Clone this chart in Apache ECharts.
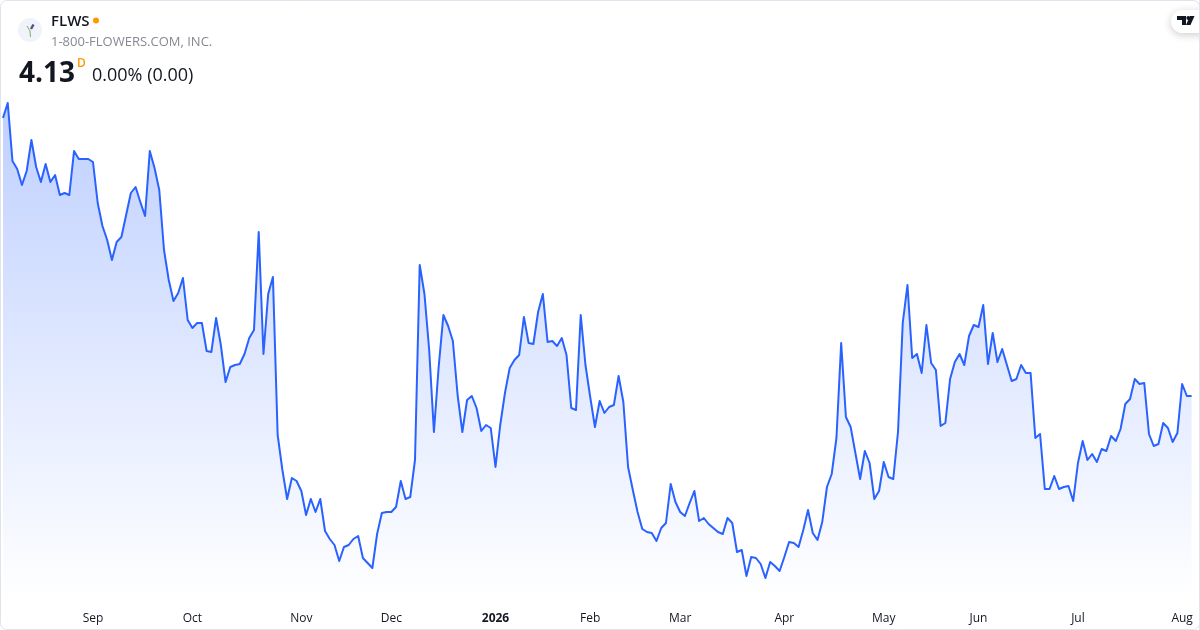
<!DOCTYPE html>
<html>
<head>
<meta charset="utf-8">
<style>
html,body{margin:0;padding:0;background:#fff;width:1200px;height:630px;overflow:hidden}
#chart{width:1200px;height:630px}
</style>
<script src="https://cdn.jsdelivr.net/npm/echarts@6/dist/echarts.min.js"></script>
</head>
<body>
<div id="chart"></div>
<script>
const tickIndex = [19,40,63,82,104,124,143,165,186,206,227,249];
const tickLabels = ['Sep','Oct','Nov','Dec','2026','Feb','Mar','Apr','May','Jun','Jul','Aug'];
const closes = [
6.91,7.06,6.48,6.40,6.24,6.38,6.69,6.42,6.27,6.45,6.27,6.34,6.14,6.16,6.14,6.58,6.50,6.50,6.50,6.47,
6.06,5.83,5.69,5.49,5.67,5.72,5.94,6.16,6.22,6.07,5.93,6.58,6.41,6.19,5.59,5.29,5.08,5.16,5.31,4.89,
4.81,4.86,4.86,4.58,4.57,4.91,4.64,4.27,4.42,4.44,4.45,4.55,4.71,4.79,5.77,4.55,5.15,5.32,3.74,3.39,
3.10,3.31,3.28,3.18,2.94,3.10,2.97,3.10,2.78,2.70,2.64,2.48,2.62,2.64,2.70,2.73,2.51,2.46,2.41,2.75,
2.96,2.97,2.97,3.02,3.28,3.10,3.12,3.49,5.44,5.15,4.59,3.77,4.42,4.94,4.83,4.68,4.14,3.77,4.09,4.13,
4.01,3.78,3.84,3.81,3.42,3.84,4.16,4.41,4.49,4.54,4.92,4.66,4.65,4.97,5.15,4.67,4.68,4.63,4.71,4.54,
4.01,3.99,4.94,4.44,4.12,3.82,4.08,3.96,4.02,4.04,4.33,4.07,3.42,3.19,2.97,2.80,2.77,2.76,2.68,2.81,
2.86,3.25,3.07,2.97,2.93,3.06,3.18,2.88,2.91,2.85,2.81,2.77,2.75,2.91,2.86,2.57,2.59,2.33,2.52,2.51,
2.45,2.31,2.47,2.43,2.38,2.52,2.67,2.66,2.62,2.79,2.99,2.76,2.69,2.87,3.22,3.35,3.71,4.66,3.92,3.82,
3.56,3.30,3.58,3.46,3.10,3.18,3.47,3.32,3.30,3.77,4.86,5.24,4.51,4.55,4.36,4.84,4.46,4.39,3.83,3.86,
4.30,4.47,4.55,4.44,4.73,4.84,4.82,5.04,4.45,4.76,4.47,4.60,4.44,4.28,4.30,4.44,4.36,4.36,3.71,3.75,
3.20,3.20,3.33,3.20,3.22,3.23,3.08,3.46,3.68,3.49,3.55,3.47,3.60,3.58,3.73,3.68,3.80,4.05,4.10,4.30,
4.25,4.26,3.75,3.63,3.65,3.86,3.81,3.67,3.76,4.25,4.13,4.13
];
const categories = closes.map((_, i) => {
  const k = tickIndex.indexOf(i);
  return k >= 0 ? tickLabels[k] : '';
});
const FONT = '"Open Sans","Noto Sans",sans-serif';
const chart = echarts.init(document.getElementById('chart'), null, {renderer:'canvas'});
chart.setOption({
  animation:false,
  backgroundColor:'#ffffff',
  grid:{left:2.3,right:8.4,top:0,bottom:30,containLabel:false},
  xAxis:{
    type:'category',data:categories,boundaryGap:false,
    axisLine:{show:false},axisTick:{show:false},splitLine:{show:false},
    axisLabel:{
      interval:0,margin:13,color:'#131722',fontSize:12,fontFamily:FONT,hideOverlap:false,
      formatter:v=>v==='2026'?'{b|2026}':v,
      rich:{b:{fontWeight:'bold',fontSize:12,fontFamily:FONT,color:'#131722'}}
    }
  },
  yAxis:{type:'value',min:2.09,max:8.09,show:false,splitLine:{show:false}},
  series:[{
    type:'line',data:closes,symbol:'none',smooth:false,silent:true,
    lineStyle:{color:'#2962ff',width:2,join:'round'},
    areaStyle:{origin:'start',opacity:1,color:{type:'linear',global:true,x:0,y:100,x2:0,y2:600,
      colorStops:[{offset:0,color:'rgba(41,98,255,0.30)'},{offset:1,color:'rgba(41,98,255,0)'}]}}
  }],
  graphic:[
    {type:'rect',silent:true,z:50,shape:{x:0.5,y:0.5,width:1199,height:629,r:6},style:{fill:'none',stroke:'#e0e3eb',lineWidth:1}},
    {type:'circle',silent:true,z:60,shape:{cx:30,cy:30,r:12},style:{fill:'#f0f3fa'}},
    {type:'polyline',silent:true,z:61,shape:{points:[[27,26],[30,31],[30.5,37]]},style:{fill:'none',stroke:'#7ab55c',lineWidth:1}},
    {type:'line',silent:true,z:61,shape:{x1:31,y1:29,x2:33.5,y2:24.5},style:{stroke:'#5b4a8a',lineWidth:2.4}},
    {type:'text',silent:true,z:60,x:51,y:14.5,style:{text:'FLWS',font:'600 15px '+FONT,fill:'#131722'}},
    {type:'circle',silent:true,z:60,shape:{cx:96,cy:20.5,r:3},style:{fill:'#ff9800'}},
    {type:'text',silent:true,z:60,x:51,y:35.5,style:{text:'1-800-FLOWERS.COM, INC.',font:'13px '+FONT,fill:'#868993'}},
    {type:'text',silent:true,z:60,x:19,y:60,style:{text:'4.13',font:'700 28px '+FONT,fill:'#131722'}},
    {type:'text',silent:true,z:60,x:77,y:58,style:{text:'D',font:'600 12px '+FONT,fill:'#ff9800'}},
    {type:'text',silent:true,z:60,x:92,y:67,style:{text:'0.00% (0.00)',font:'18px '+FONT,fill:'#131722'}},
    {type:'rect',silent:true,z:70,shape:{x:1171,y:10,width:40,height:23,r:11.5},style:{fill:'#ffffff',shadowBlur:8,shadowColor:'rgba(0,0,0,0.2)',shadowOffsetY:2}},
    {type:'polygon',silent:true,z:71,shape:{points:[[1177,16],[1186,16],[1186,25],[1182,25],[1182,20],[1177,20]]},style:{fill:'#131722'}},
    {type:'circle',silent:true,z:71,shape:{cx:1188.3,cy:18,r:2},style:{fill:'#131722'}},
    {type:'polygon',silent:true,z:71,shape:{points:[[1190,16],[1194.5,16],[1190.5,25],[1186,25]]},style:{fill:'#131722'}},
    {type:'rect',silent:true,z:72,shape:{x:1199,y:0,width:1,height:630},style:{fill:'#e0e3eb'}}
  ]
});
</script>
</body>
</html>
